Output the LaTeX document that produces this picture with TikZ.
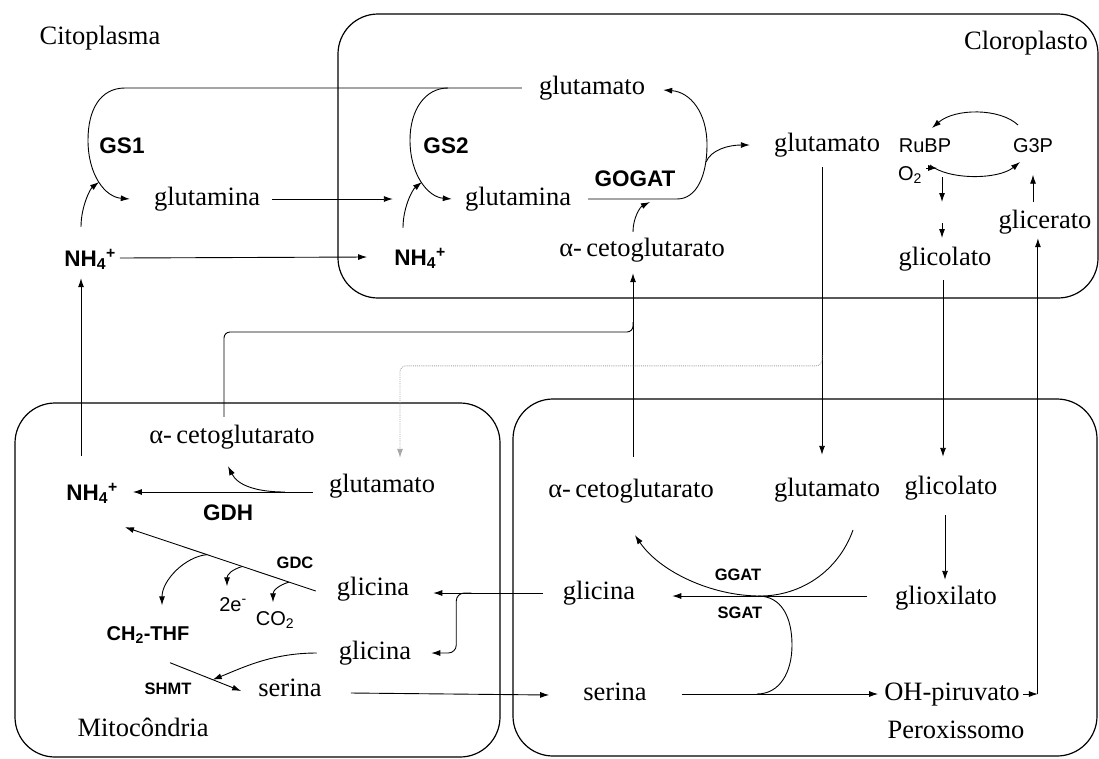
\documentclass[tikz,border=0pt]{standalone}
\usepackage{fontspec}
\setmainfont{Liberation Serif}
\setsansfont{Liberation Sans}
\usetikzlibrary{arrows.meta, calc}

\tikzset{
  met/.style={font=\fontsize{26.5}{30}\selectfont, inner sep=0pt, text height=18pt, text depth=6pt},
  enz/.style={font=\sffamily\bfseries\fontsize{22.5}{26}\selectfont, inner sep=0pt, text height=16pt, text depth=0pt},
  enzsmall/.style={font=\sffamily\bfseries\fontsize{16.5}{19}\selectfont, inner sep=0pt},
  chem/.style={font=\sffamily\fontsize{20}{23}\selectfont, inner sep=0pt, text height=15pt, text depth=4pt},
  organelle/.style={draw, line width=1.2pt, rounded corners=40pt},
  link/.style={line width=0.9pt},
  flow/.style={line width=0.9pt, -{Latex[length=9pt,width=6pt]}},
  dotflow/.style={line width=0.9pt, gray!70, densely dotted, -{Latex[length=9pt,width=6pt]}}
}

\begin{document}
\begin{tikzpicture}[x=1pt, y=-1pt]
  \useasboundingbox (0,0) rectangle (1099,758);

  \draw[organelle] (338,14) rectangle (1098,298);
  \draw[organelle] (15,403) rectangle (500,757);
  \draw[organelle] (513,399) rectangle (1097,756);

  \node[met] (cyto) at (100,38) {Citoplasma};
  \node[met] (chloro) at (1026,43) {Cloroplasto};
  \node[met] (mito) at (143,730) {Mitocôndria};
  \node[met] (perox) at (956,732) {Peroxissomo};

  \node[met] (gluTop) at (592,88) {glutamato};
  \node[met] (glnC) at (207,199) {glutamina};
  \node[met] (glnP) at (518,199) {glutamina};
  \node[met] (gluR) at (827,145) {glutamato};
  \node[met] (akgC) at (642,250) {α-\,cetoglutarato};
  \node[met] (glicolC) at (945,259) {glicolato};
  \node[met] (glicerato) at (1045,222) {glicerato};
  \node[enz] (gs1) at (122,145) {GS1};
  \node[enz] (gs2) at (446,145) {GS2};
  \node[enz] (gogat) at (635,178) {GOGAT};
  \node[enz] (nh4C) at (90,258) {NH\textsubscript{4}\textsuperscript{+}};
  \node[enz] (nh4P) at (420,257) {NH\textsubscript{4}\textsuperscript{+}};
  \node[chem] (rubp) at (925,147) {RuBP};
  \node[chem] (g3p) at (1033,147) {G3P};
  \node[chem] (o2) at (910,175) {O\textsubscript{2}};

  \node[met] (akgM) at (232,437) {α-\,cetoglutarato};
  \node[met] (gluM) at (382,486) {glutamato};
  \node[enz] (nh4M) at (92,492) {NH\textsubscript{4}\textsuperscript{+}};
  \node[enz] (gdh) at (228,512) {GDH};
  \node[enzsmall] (gdc) at (295,563) {GDC};
  \node[chem] (e2) at (233,606) {2e\textsuperscript{-}};
  \node[chem] (co2) at (275,620) {CO\textsubscript{2}};
  \node[met] (glyM1) at (373,589) {glicina};
  \node[chem, font=\sffamily\bfseries\fontsize{20}{23}\selectfont] (ch2thf) at (148,635) {CH\textsubscript{2}-THF};
  \node[met] (glyM2) at (375,653) {glicina};
  \node[enzsmall] (shmt) at (168,689) {SHMT};
  \node[met] (serM) at (290,690) {serina};

  \node[met] (akgX) at (631,491) {α-\,cetoglutarato};
  \node[met] (gluX) at (827,490) {glutamato};
  \node[met] (glicolX) at (951,488) {glicolato};
  \node[enzsmall] (ggat) at (738,575) {GGAT};
  \node[met] (glyX) at (599,593) {glicina};
  \node[met] (gliox) at (946,598) {glioxilato};
  \node[enzsmall] (sgat) at (740,613) {SGAT};
  \node[met] (serX) at (615,694) {serina};
  \node[met] (ohp) at (952,694) {OH-piruvato};

  \coordinate (gs1in) at (99,182);
  \coordinate (gs2a) at (448,88);
  \coordinate (gs2in) at (422,182);
  \coordinate (gogatc) at (677,199);
  \coordinate (gogatj) at (706,162);
  \coordinate (gogatin) at (650,202);
  \coordinate (akgj) at (633,332);
  \coordinate (gluj) at (822,355);
  \coordinate (gdhj) at (285,492);
  \coordinate (gdcs) at ($(glyM1.west)+(-21,2)$);
  \coordinate (gdce) at ($(nh4M.south)+(33,27)$);
  \coordinate (glyj) at ($(glyM1.east |- glyX)+(62,0)$);
  \coordinate (thfs) at ($(ch2thf.south)+(22,18)$);
  \coordinate (thfe) at ($(serM.west)+(-17,1)$);
  \coordinate (ggatb) at (760,596);
  \coordinate (sgatt) at (758,596);
  \coordinate (sgatb) at ($(serX.east)+(110,0)$);
  \coordinate (ohpc) at ($(ohp.east)+(18,0)$);

  \draw[flow] ($(gluTop.west)+(-17,0)$) -- (125,88) .. controls (100,88) and (88,110) .. (88,140)
    .. controls (88,175) and (105,197) .. ($(glnC.west)+(-24,0)$);
  \draw[flow] ($(nh4C.north)+(-9,-23)$) .. controls (81,207) and (90,189) .. (gs1in);
  \draw[flow] (gs2a) .. controls (425,88) and (410,110) .. (410,140)
    .. controls (410,175) and (428,197) .. ($(glnP.west)+(-13,0)$);
  \draw[flow] ($(nh4P.north)+(-17,-21)$) .. controls (403,208) and (412,190) .. (gs2in);
  \draw[flow] ($(glnC.east)+(12,0)$) -- ($(glnP.west)+(-72,0)$);
  \draw[flow] ($(nh4C.east)+(4,0)$) -- ($(nh4P.west)+(-27,0)$);
  \draw[flow] ($(glnP.east)+(17,0)$) -- (gogatc) .. controls (697,199) and (707,175) .. (707,145)
    .. controls (707,112) and (690,92) .. ($(gluTop.east)+(18,2)$);
  \draw[flow] (gogatj) .. controls (711,150) and (728,145) .. ($(gluR.west)+(-24,0)$);
  \draw[flow] ($(akgC.north)+(-9,-6)$) .. controls (633,218) and (640,207) .. (gogatin);

  \draw[flow] ($(g3p)+(-15,-22)$) .. controls (1000,108) and (955,108) .. ($(rubp)+(7,-19)$);
  \draw[flow] ($(rubp)+(5,18)$) .. controls (948,180) and (998,180) .. ($(g3p)+(-13,15)$);
  \draw[flow] ($(o2.east)+(4,-7)$) -- ++(11,0);
  \draw[flow] ($(glicolC)+(-3,-82)$) -- ($(glicolC)+(-3,-57)$);
  \draw[flow] ($(glicolC)+(-3,-36)$) -- ($(glicolC)+(-3,-21)$);
  \draw[flow] ($(g3p |- glicerato.north)+(0,-8)$) -- ($(g3p.south)+(0,18)$);

  \draw[flow] ($(gluR.south)+(-5,10)$) -- ($(gluR.south |- gluX.north)+(-5,-23)$);
  \draw[flow] ($(glicolC.south)+(-2,9)$) -- ($(glicolC.south |- glicolX.north)+(-2,-19)$);
  \draw[flow] ($(ohp.east)+(3,0)$) -- (ohpc);
  \draw[flow] (ohpc) -- ($(ohpc |- glicerato.south)+(0,4)$);
  \draw[flow] ($(akgX.north)+(2,-22)$) -- ($(akgX.north |- akgC.south)+(2,11)$);
  \draw[link, rounded corners=6pt] ($(akgM.north)+(-8,-8)$) |- (akgj) -- ++(0,-10);
  \draw[dotflow, rounded corners=6pt] (gluj) |- ($(gluM.north)+(18,-108)$) -- ($(gluM.north)+(18,-16)$);
  \draw[flow] ($(nh4M.north)+(-11,-28)$) -- ($(nh4M.north |- nh4C.south)+(-11,12)$);

  \draw[flow] ($(gluM.west |- nh4M)+(-16,0)$) -- ($(nh4M.east)+(15,0)$);
  \draw[flow] (gdhj) .. controls (258,492) and (238,486) .. ($(akgM.south)+(-4,17)$);
  \draw[flow] (gdcs) -- (gdce);
  \draw[flow] ($(gdcs)!0.57!(gdce)$) .. controls +(-22,2) and +(0,-25) .. ($(ch2thf.north)+(14,-20)$);
  \draw[flow] ($(gdcs)!0.385!(gdce)$) .. controls +(-10,3) and +(0,-12) .. ($(e2.north)+(-6,-10)$);
  \draw[flow] ($(gdcs)!0.14!(gdce)$) .. controls +(-10,3) and +(0,-12) .. ($(co2.north)+(-2,-8)$);
  \draw[flow] ($(glyX.west)+(-20,0)$) -- ($(glyM1.east |- glyX)+(24,0)$);
  \draw[flow, rounded corners=8pt] (glyj) -| ($(glyM2.east)+(45,0)$) -- ($(glyM2.east)+(20,0)$);
  \draw[flow] ($(glyM2.west)+(-22,0)$) .. controls +(-45,0) and +(30,-12) .. ($(thfs)!0.6!(thfe)$);
  \draw[flow] (thfs) -- (thfe);
  \draw[flow] ($(serM.east)+(29,3)$) -- ($(serX.west)+(-34,1)$);

  \draw[flow] ($(serX.east)+(35,0)$) -- ($(ohp.west)+(-6,0)$);
  \draw[link] (sgatt) .. controls (782,596) and (792,618) .. (792,645)
    .. controls (792,672) and (780,694) .. (sgatb);
  \draw[flow] ($(gliox.west)+(-28,-2)$) -- ($(glyX.east |- gliox.west)+(37,-2)$);
  \draw[flow] ($(gluX)+(26,40)$) .. controls (838,572) and (800,596) .. (ggatb)
    .. controls (712,596) and (660,572) .. ($(akgX.south)+(4,32)$);
  \draw[flow] ($(glicolX.south)+(-6,15)$) -- ($(glicolX.south |- gliox.north)+(-6,-6)$);
\end{tikzpicture}
\end{document}
